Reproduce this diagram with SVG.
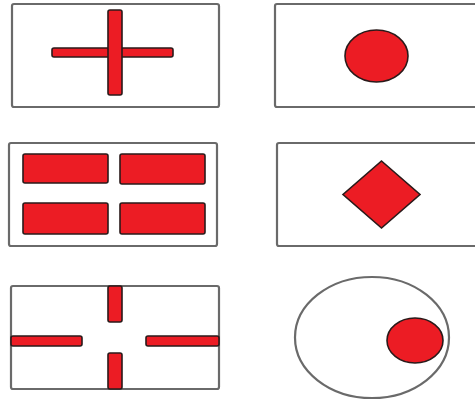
<svg xmlns="http://www.w3.org/2000/svg" width="475" height="405" viewBox="0 0 475 405">
<style>
.box{fill:#fff;stroke:#6a6a6a;stroke-width:2.2}
.red{fill:#ec1c24;stroke:#2a1a1a;stroke-width:1.6}
</style>
<rect width="475" height="405" fill="#fff"/>
<g id="cross">
<rect class="box" x="12" y="4" width="207" height="103" rx="2"/>
<rect class="red" x="52" y="48" width="121" height="9" rx="2"/>
<rect class="red" x="108" y="10" width="14" height="85" rx="2"/>
</g>
<g id="circle">
<rect class="box" x="275" y="4" width="210" height="103" rx="2"/>
<ellipse class="red" cx="376.5" cy="56" rx="31.5" ry="26"/>
</g>
<g id="bars">
<rect class="box" x="9" y="143" width="208" height="103" rx="2"/>
<rect class="red" x="23" y="154" width="85" height="29" rx="2"/>
<rect class="red" x="120" y="154" width="85" height="30" rx="2"/>
<rect class="red" x="23" y="203" width="85" height="31" rx="2"/>
<rect class="red" x="120" y="203" width="85" height="31" rx="2"/>
</g>
<g id="diamond">
<rect class="box" x="277" y="143" width="210" height="103" rx="2"/>
<polygon class="red" points="381.5,161 420,194.5 381.5,228 343,194.5"/>
</g>
<g id="split-cross">
<rect class="box" x="11" y="286" width="208" height="103" rx="2"/>
<rect class="red" x="108" y="286" width="14" height="36" rx="2"/>
<rect class="red" x="108" y="353" width="14" height="36" rx="2"/>
<rect class="red" x="11" y="336" width="71" height="10" rx="2"/>
<rect class="red" x="146" y="336" width="73" height="10" rx="2"/>
</g>
<g id="oval">
<ellipse cx="372" cy="337.5" rx="77" ry="60.5" fill="#fff" stroke="#6a6a6a" stroke-width="2.2"/>
<ellipse class="red" cx="415" cy="340.5" rx="28" ry="22.5"/>
</g>
</svg>
